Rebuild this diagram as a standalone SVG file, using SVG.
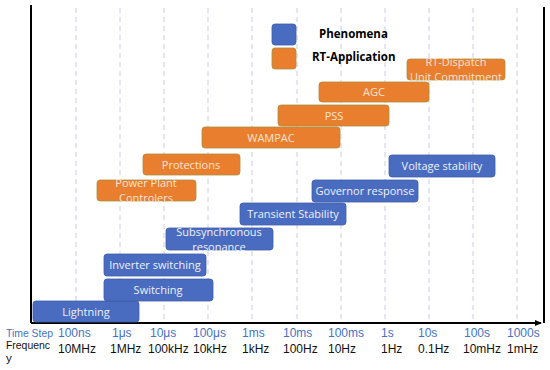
<svg xmlns="http://www.w3.org/2000/svg" width="550" height="370" viewBox="0 0 550 370">
<defs>
<style>
.grid{stroke:#c9cde0;stroke-width:1;stroke-dasharray:5,4}
.frame{stroke:#000;stroke-width:2;fill:none}
.ph{fill:#4a6cc0;stroke:#3f5ea8;stroke-width:0.8}
.rt{fill:#e97f2e;stroke:#a99040;stroke-width:0.8}
.pt{font-family:"Open Sans","Liberation Sans",sans-serif;font-size:11px;fill:#eef1fb;text-anchor:middle}
.rtt{font-family:"Open Sans","Liberation Sans",sans-serif;font-size:11px;fill:#fbe3d2;text-anchor:middle}
.leg{font-family:"Open Sans","Liberation Sans",sans-serif;font-size:11.5px;font-weight:bold;fill:#000}
.ts{font-family:"Liberation Sans",Arial,sans-serif;font-size:12px;fill:#4472c4}
.fq{font-family:"Liberation Sans",Arial,sans-serif;font-size:12px;fill:#111}
.sm{font-size:11.5px}
</style>
<marker id="ah" markerWidth="8" markerHeight="8" refX="6" refY="4" orient="auto" markerUnits="userSpaceOnUse">
<path d="M0,1 L7,4 L0,7 z" fill="#000"/>
</marker>
</defs>
<rect width="550" height="370" fill="#fff"/>
<g id="grid">
<line class="grid" x1="76" y1="8" x2="76" y2="322"/>
<line class="grid" x1="120" y1="8" x2="120" y2="322"/>
<line class="grid" x1="164" y1="8" x2="164" y2="322"/>
<line class="grid" x1="208" y1="8" x2="208" y2="322"/>
<line class="grid" x1="252" y1="8" x2="252" y2="322"/>
<line class="grid" x1="297" y1="8" x2="297" y2="322"/>
<line class="grid" x1="341" y1="8" x2="341" y2="322"/>
<line class="grid" x1="385" y1="8" x2="385" y2="322"/>
<line class="grid" x1="429" y1="8" x2="429" y2="322"/>
<line class="grid" x1="473" y1="8" x2="473" y2="322"/>
<line class="grid" x1="517" y1="8" x2="517" y2="322"/>
</g>
<g id="connectors">
<line class="frame" x1="31" y1="5" x2="31" y2="323"/>
<line class="frame" x1="31" y1="323" x2="541" y2="323" marker-end="url(#ah)"/>
<line class="frame" x1="544" y1="7" x2="544" y2="323"/>
</g>
<g id="legend">
<rect class="ph" x="272" y="24" width="24" height="21" rx="3"/>
<rect class="rt" x="272" y="48" width="24" height="21" rx="3"/>
<text class="leg" x="319" y="38">Phenomena</text>
<text class="leg" x="312" y="61">RT-Application</text>
</g>
<g id="lightning"><rect class="ph" x="33" y="301" width="106" height="21" rx="3"/><text class="pt" x="86" y="316">Lightning</text></g>
<g id="switching"><rect class="ph" x="104" y="279" width="109" height="22" rx="3"/><text class="pt" x="158" y="294">Switching</text></g>
<g id="inverter"><rect class="ph" x="104" y="254" width="102" height="22" rx="3"/><text class="pt" x="155" y="269">Inverter switching</text></g>
<g id="subsync"><rect class="ph" x="166" y="228" width="107" height="22" rx="3"/><text class="pt" x="219" y="236">Subsynchronous</text><text class="pt" x="219" y="251">resonance</text></g>
<g id="transient"><rect class="ph" x="240" y="203" width="106" height="22" rx="3"/><text class="pt" x="293" y="218">Transient Stability</text></g>
<g id="governor"><rect class="ph" x="312" y="180" width="106" height="22" rx="3"/><text class="pt" x="365" y="195">Governor response</text></g>
<g id="voltage"><rect class="ph" x="389" y="155" width="106" height="22" rx="3"/><text class="pt" x="442" y="170">Voltage stability</text></g>
<g id="rtdispatch"><rect class="rt" x="407" y="59" width="98" height="21" rx="3"/><text class="rtt" x="456" y="66">RT-Dispatch</text><text class="rtt" x="456" y="81">Unit Commitment</text></g>
<g id="agc"><rect class="rt" x="319" y="82" width="110" height="20" rx="3"/><text class="rtt" x="374" y="96">AGC</text></g>
<g id="pss"><rect class="rt" x="278" y="105" width="111" height="21" rx="3"/><text class="rtt" x="334" y="120">PSS</text></g>
<g id="wampac"><rect class="rt" x="202" y="127" width="138" height="21" rx="3"/><text class="rtt" x="271" y="142">WAMPAC</text></g>
<g id="protections"><rect class="rt" x="143" y="154" width="97" height="21" rx="3"/><text class="rtt" x="191" y="169">Protections</text></g>
<g id="powerplant"><rect class="rt" x="97" y="180" width="99" height="21" rx="3"/><text class="rtt" x="146" y="187">Power Plant</text><text class="rtt" x="146" y="202">Controlers</text></g>
<g id="axis-labels">
<text class="ts sm" x="6" y="337" textLength="47" lengthAdjust="spacingAndGlyphs">Time Step</text>
<text class="ts" x="58" y="337">100ns</text>
<text class="ts" x="112" y="337">1μs</text>
<text class="ts" x="150" y="337">10μs</text>
<text class="ts" x="193" y="337">100μs</text>
<text class="ts" x="242" y="337">1ms</text>
<text class="ts" x="283" y="337">10ms</text>
<text class="ts" x="328" y="337">100ms</text>
<text class="ts" x="381" y="337">1s</text>
<text class="ts" x="418" y="337">10s</text>
<text class="ts" x="464" y="337">100s</text>
<text class="ts" x="507" y="337">1000s</text>
<text class="fq sm" x="6" y="349" textLength="44" lengthAdjust="spacingAndGlyphs">Frequenc</text>
<text class="fq sm" x="6" y="362">y</text>
<text class="fq" x="58" y="353">10MHz</text>
<text class="fq" x="110" y="353">1MHz</text>
<text class="fq" x="148" y="353">100kHz</text>
<text class="fq" x="193" y="353">10kHz</text>
<text class="fq" x="242" y="353">1kHz</text>
<text class="fq" x="283" y="353">100Hz</text>
<text class="fq" x="328" y="353">10Hz</text>
<text class="fq" x="381" y="353">1Hz</text>
<text class="fq" x="418" y="353">0.1Hz</text>
<text class="fq" x="463" y="353">10mHz</text>
<text class="fq" x="507" y="353">1mHz</text>
</g>
</svg>
